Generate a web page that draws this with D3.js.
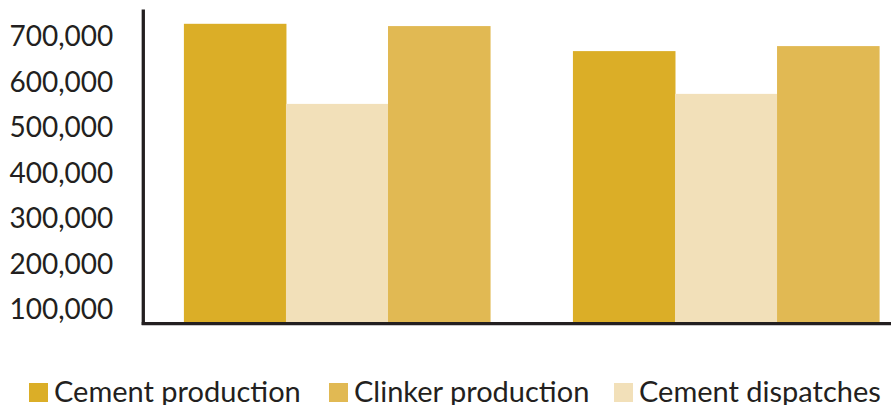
<!DOCTYPE html>
<html>
<head>
<meta charset="utf-8">
<script src="https://cdn.jsdelivr.net/npm/d3@7"></script>
<style>
  body { margin: 0; background: #fff; }
  svg text { font-family: Lato, "Open Sans", sans-serif; fill: #231f20; }
</style>
</head>
<body>
<svg id="chart" width="891" height="405"></svg>
<script>
// two periods, no labels shown on the chart
var groups = ["Period 1", "Period 2"];
var series = ["Cement production", "Cement dispatches", "Clinker production"];
var cementProduction = [729000, 669000];
var cementDispatches = [553000, 575000];
var clinkerProduction = [724000, 680000];
var tickValues = [100000, 200000, 300000, 400000, 500000, 600000, 700000];
var legendOrder = ["Cement production", "Clinker production", "Cement dispatches"];

var colors = {
  "Cement production": "#dbae27",
  "Clinker production": "#e1b953",
  "Cement dispatches": "#f2e0b9"
};

var rows = groups.map(function(g, i) {
  return {
    group: g,
    values: [
      { key: "Cement production", value: cementProduction[i] },
      { key: "Cement dispatches", value: cementDispatches[i] },
      { key: "Clinker production", value: clinkerProduction[i] }
    ]
  };
});

var svg = d3.select("#chart");
var axisX = 143.3, baseY = 322;

var y = d3.scaleLinear()
  .domain([73600, 700000])
  .range([baseY, 37]);

var x0 = d3.scaleBand()
  .domain(groups)
  .range([145, 918])
  .paddingInner(0.213)
  .paddingOuter(0.1);

var x1 = d3.scaleBand()
  .domain(series)
  .range([0, x0.bandwidth()]);

// bars
var g = svg.append("g");
g.selectAll(".grp")
  .data(rows)
  .enter()
  .append("g")
  .attr("class", "grp")
  .attr("transform", function(d) { return "translate(" + x0(d.group) + ",0)"; })
  .selectAll("rect")
  .data(function(d) { return d.values; })
  .enter()
  .append("rect")
  .attr("x", function(d) { return x1(d.key); })
  .attr("width", x1.bandwidth() + 0.5)
  .attr("y", function(d) { return y(d.value); })
  .attr("height", function(d) { return baseY - y(d.value); })
  .attr("fill", function(d) { return colors[d.key]; });

// y labels
var yAxis = svg.append("g")
  .attr("transform", "translate(" + axisX + ",0)")
  .call(d3.axisLeft(y)
    .tickValues(tickValues)
    .tickSize(0)
    .tickPadding(30)
    .tickFormat(d3.format(",")));
yAxis.select(".domain").remove();
yAxis.selectAll("text")
  .style("font-size", "28px")
  .attr("fill", "#231f20");

// axis lines
svg.append("line")
  .attr("x1", axisX).attr("x2", axisX)
  .attr("y1", 9.5).attr("y2", 325)
  .attr("stroke", "#231f20").attr("stroke-width", 3.3);
svg.append("line")
  .attr("x1", axisX - 1.6).attr("x2", 891)
  .attr("y1", 323.6).attr("y2", 323.6)
  .attr("stroke", "#231f20").attr("stroke-width", 3.3);

// legend
var legendX = [29, 329, 614];
var lg = svg.selectAll(".legend")
  .data(legendOrder)
  .enter()
  .append("g")
  .attr("class", "legend")
  .attr("transform", function(d, i) { return "translate(" + legendX[i] + ",383)"; });
lg.append("rect")
  .attr("width", 19).attr("height", 19)
  .attr("fill", function(d) { return colors[d]; });
lg.append("text")
  .attr("x", 25)
  .attr("y", 19)
  .style("font-size", "29px")
  .text(function(d) { return d; });
</script>
</body>
</html>
